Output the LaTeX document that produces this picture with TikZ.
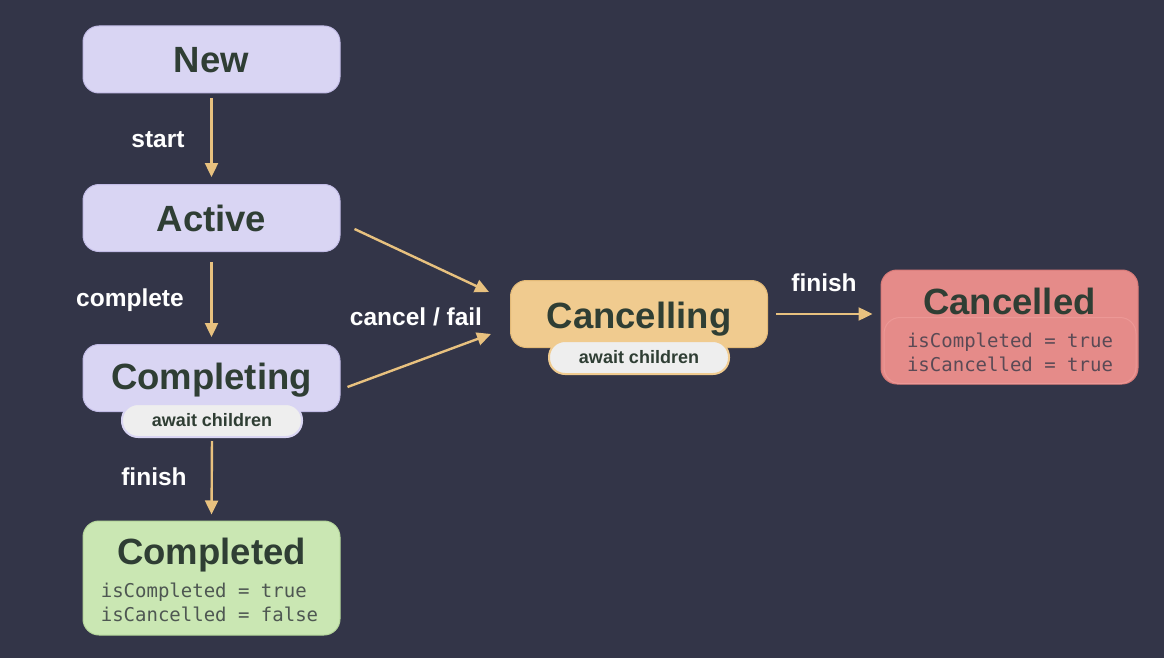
\documentclass[tikz,border=0pt]{standalone}
\usepackage{fontspec}
\setmainfont{Liberation Sans}
\newfontfamily\monofont{DejaVu Sans Mono}
\usetikzlibrary{arrows.meta}
\definecolor{bg}{HTML}{333548}
\definecolor{lav}{HTML}{D9D5F3}
\definecolor{lavedge}{HTML}{C2BCE6}
\definecolor{grn}{HTML}{CAE7B3}
\definecolor{grnedge}{HTML}{B5D69B}
\definecolor{org}{HTML}{F0CB8F}
\definecolor{orgedge}{HTML}{E2B977}
\definecolor{rd}{HTML}{E58B89}
\definecolor{rdedge}{HTML}{D87B79}
\definecolor{rdinner}{HTML}{EC9896}
\definecolor{pillfill}{HTML}{EEEEEE}
\definecolor{ink}{HTML}{2F3E34}
\definecolor{monoink}{HTML}{4E5752}
\definecolor{monoinkr}{HTML}{5A4A55}
\definecolor{arr}{HTML}{E8C17F}
\begin{document}
\begin{tikzpicture}[x=1pt,y=-1pt,
  statebox/.style={rounded corners=16pt, minimum width=257pt, minimum height=67pt, inner sep=0pt, line width=1pt},
  titletext/.style={text=ink, font=\bfseries\fontsize{36.5}{42}\selectfont, inner sep=0pt, text height=25pt, text depth=0pt},
  pillbox/.style={rounded corners=16pt, minimum width=180pt, minimum height=33pt, inner sep=0pt, fill=pillfill, line width=2pt,
    text=ink, font=\bfseries\fontsize{18}{20}\selectfont},
  monotext/.style={text=monoink, font=\monofont\fontsize{19}{24}\selectfont, align=left, inner sep=0pt},
  lbl/.style={text=white, font=\bfseries\fontsize{24.5}{28}\selectfont, inner sep=0pt},
  arrow/.style={draw=arr, line width=2.4pt, -{Triangle[length=14pt,width=13pt]}}
]
\fill[bg] (0,0) rectangle (1164,658);
\useasboundingbox (0,0) rectangle (1164,658);

% states
\node[statebox, fill=lav, draw=lavedge] (new) at (211.5,59.5) {};
\node[titletext] (newt) at (211.5,60) {New};

\node[statebox, fill=lav, draw=lavedge] (active) at (211.5,218) {};
\node[titletext] (activet) at (211.5,218.5) {Active};

\node[statebox, fill=lav, draw=lavedge] (completing) at (211.5,378) {};
\node[titletext] (completingt) at (211.5,376.5) {Completing};
\node[pillbox, draw=lav] (cpill) at (212,420.5) {await children};

\node[statebox, fill=grn, draw=grnedge, minimum height=114pt] (completed) at (211.5,578) {};
\node[titletext] (completedt) at (211.5,551.5) {Completed};
\node[monotext] (completedm) at (209.5,602) {isCompleted = true\\isCancelled = false};

\node[statebox, fill=org, draw=orgedge] (cancelling) at (639,314) {};
\node[titletext] (cancellingt) at (639,315.5) {Cancelling};
\node[pillbox, draw=org] (kpill) at (639,357.5) {await children};

\node[statebox, fill=rd, draw=rdedge, minimum height=114pt] (cancelled) at (1009.5,327) {};
\node[draw=rdinner, line width=1pt, rounded corners=16pt, minimum width=252pt, minimum height=66pt] (cinner) at (1010,350.5) {};
\node[titletext] (cancelledt) at (1009.5,301.5) {Cancelled};
\node[monotext, text=monoinkr] (cancelledm) at (1010,352) {isCompleted = true\\isCancelled = true};

% connectors
\draw[arrow, shorten <=5pt, shorten >=7pt] (new.south) -- (active.north);
\draw[arrow, shorten <=10pt, shorten >=7pt] (active.south) -- (completing.north);
\draw[arrow, shorten <=3pt, shorten >=6pt] (cpill.south) -- (completed.north);
\draw[arrow] ([xshift=14pt,yshift=-11pt]active.east) -- ([xshift=-21pt,yshift=22pt]cancelling.west);
\draw[arrow] ([xshift=7pt,yshift=-9pt]completing.east) -- ([xshift=-19pt,yshift=-20pt]cancelling.west);
\draw[arrow] ([xshift=8pt]cancelling.east) -- ([xshift=-8pt,yshift=13pt]cancelled.west);

% labels
\node[lbl] (lstart) at (158,140) {start};
\node[lbl] (lcomplete) at (130,300) {complete};
\node[lbl] (lfinish1) at (154,477) {finish};
\node[lbl] (lcancel) at (416,317) {cancel / fail};
\node[lbl] (lfinish2) at (824,283) {finish};
\end{tikzpicture}
\end{document}
